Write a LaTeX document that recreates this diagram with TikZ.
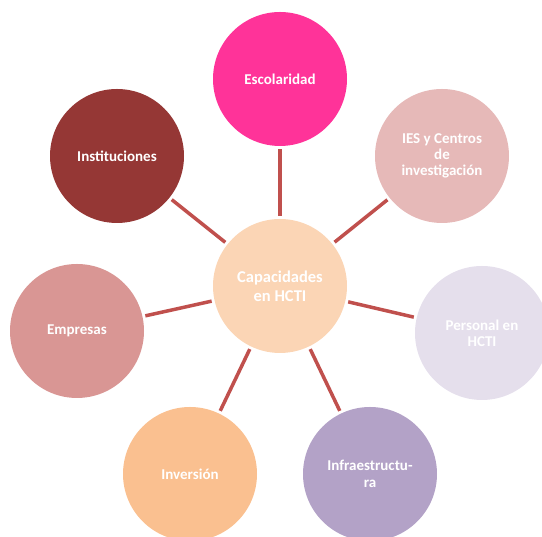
\documentclass[tikz,border=0pt]{standalone}
\usepackage{fontspec}
\setmainfont{Carlito}
\definecolor{cEsc}{HTML}{FF3399}
\definecolor{cIES}{HTML}{E6B9B8}
\definecolor{cPer}{HTML}{E5DFEC}
\definecolor{cInf}{HTML}{B3A2C7}
\definecolor{cInv}{HTML}{FAC090}
\definecolor{cEmp}{HTML}{D99694}
\definecolor{cIns}{HTML}{953735}
\definecolor{cCen}{HTML}{FBD5B5}
\definecolor{cLine}{HTML}{C0504D}
\begin{document}
\begin{tikzpicture}[x=1pt,y=1pt,
  bubble/.style={circle,minimum size=134pt,inner sep=0pt,outer sep=3pt,
    text=white,font=\bfseries\fontsize{15}{16.3}\selectfont,align=center},
  link/.style={draw=cLine,line width=3.5pt}]
\useasboundingbox (0,0) rectangle (542,537);
\node[bubble,fill=cCen,font=\bfseries\fontsize{16.5}{19}\selectfont] (cen) at (280,251) {Capacidades\\en HCTI};
\node[bubble,fill=cEsc] (esc) at (280,458) {Escolaridad};
\node[bubble,fill=cIES] (ies) at (442,381) {IES y Centros\\de\\investigación};
\node[bubble,fill=cPer] (per) at (482,204) {Personal en\\HCTI};
\node[bubble,fill=cInf] (inf) at (370,63) {Infraestructu-\\ra};
\node[bubble,fill=cInv] (inv) at (190,63) {Inversión};
\node[bubble,fill=cEmp] (emp) at (77,206) {Empresas};
\node[bubble,fill=cIns] (ins) at (117,381) {Instituciones};
\foreach \n in {esc,ies,per,inf,inv,emp,ins}
  \draw[link] (cen) -- (\n);
\end{tikzpicture}
\end{document}
